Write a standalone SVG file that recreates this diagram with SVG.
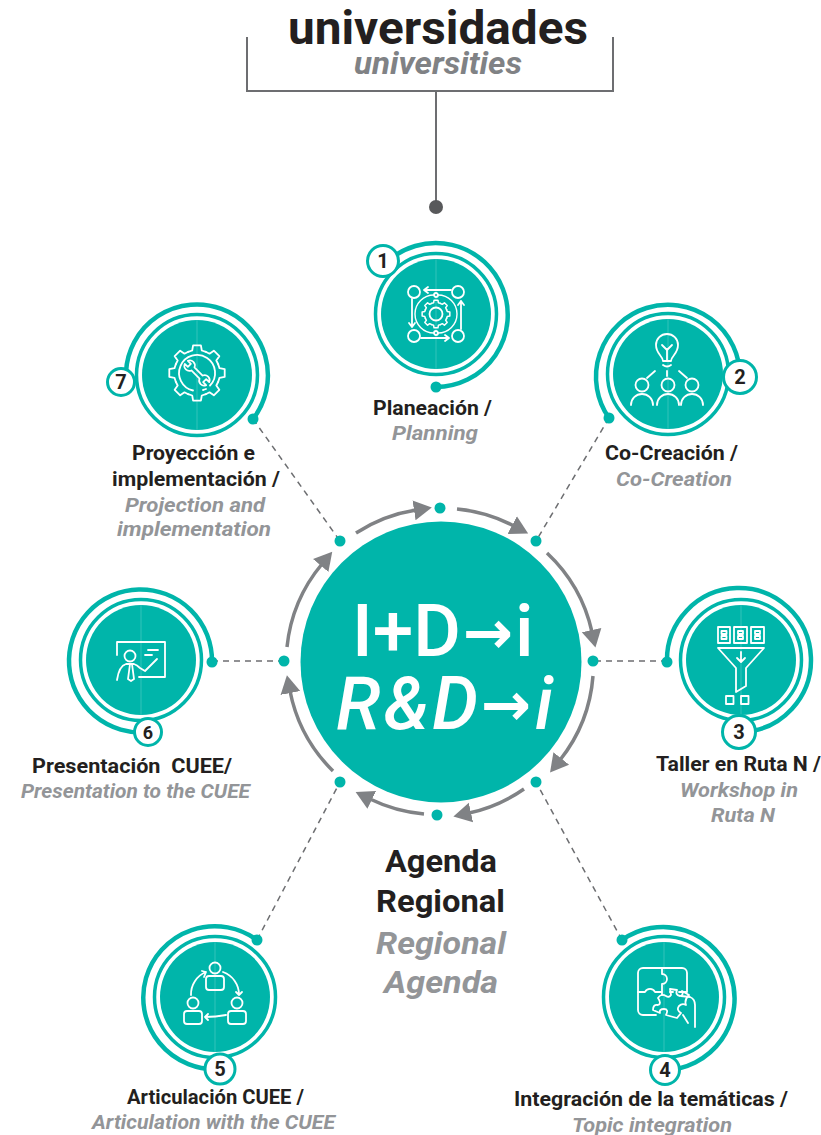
<svg xmlns="http://www.w3.org/2000/svg" xmlns:xlink="http://www.w3.org/1999/xlink" width="821" height="1135" viewBox="0 0 821 1135">
<style>
text{font-family:"Roboto","Liberation Sans",sans-serif;text-anchor:middle}
.disc{fill:#00b5aa}
.ring{fill:none;stroke:#00b5aa;stroke-width:3.5}
.spiral{fill:none;stroke:#00b5aa;stroke-width:4.5;stroke-linecap:round}
.end{fill:#00b5aa}
.seam{stroke:#fff;stroke-opacity:.2;stroke-width:1}
.badge{fill:#fff;stroke:#00b5aa;stroke-width:3}
.num{font-size:20px;font-weight:700;fill:#231f20}
.es{font-size:20px;font-weight:700;fill:#231f20}
.en{font-size:20px;font-weight:700;font-style:italic;fill:#939598}
.ic{fill:none;stroke:#fff;stroke-width:1.8;stroke-linecap:round;stroke-linejoin:round}
.dash{fill:none;stroke:#6d6e71;stroke-width:1.5;stroke-dasharray:6 5}
.flow{fill:none;stroke:#808285;stroke-width:3.5;marker-end:url(#head)}
.hub{fill:#00b5aa}
.port{fill:#00b5aa}
.big{font-size:73px;font-weight:500;fill:#fff;text-anchor:start}
.arw{font-family:"DejaVu Sans",sans-serif;font-size:60px;font-weight:700;font-style:normal;letter-spacing:0}
.ag{font-size:32px;font-weight:700;fill:#231f20}
.agi{font-size:32px;font-weight:700;font-style:italic;fill:#939598}
</style>
<defs>
<marker id="head" markerUnits="userSpaceOnUse" markerWidth="22" markerHeight="26" refX="2" refY="13" orient="auto">
<path d="M0,3 L18,13 L0,23 Z" fill="#808285"/>
</marker>
<path id="tooth" d="M-8.8,-21.2 L-4.8,-22.5 L-3.9,-27.7 L3.9,-27.7 L4.8,-22.5 L8.8,-21.2"/>
<g id="gear">
<use xlink:href="#tooth"/><use xlink:href="#tooth" transform="rotate(45)"/><use xlink:href="#tooth" transform="rotate(90)"/><use xlink:href="#tooth" transform="rotate(135)"/><use xlink:href="#tooth" transform="rotate(180)"/><use xlink:href="#tooth" transform="rotate(225)"/><use xlink:href="#tooth" transform="rotate(270)"/><use xlink:href="#tooth" transform="rotate(315)"/>
</g>
<g id="core">
<circle r="55" class="disc"/><circle r="60.500" class="ring"/><line y1="-55" y2="55" class="seam"/>
</g>
</defs>
<rect width="821" height="1135" fill="#fff"/>

<g id="connectors">
<path d="M247,37 V91 H613 V37" fill="none" stroke="#6d6e71" stroke-width="2"/>
<path d="M436,91 V207" fill="none" stroke="#6d6e71" stroke-width="2"/>
<circle cx="436" cy="207" r="7" fill="#58595b"/>
<path class="dash" d="M253,419 L340,541"/>
<path class="dash" d="M609,418 L536,541"/>
<path class="dash" d="M667,661 L593,661"/>
<path class="dash" d="M622,940 L536,782"/>
<path class="dash" d="M257,940 L340,782"/>
<path class="dash" d="M212,661 L284,661"/>
<path class="flow" d="M356,533 A154,154 0 0 1 416,510"/>
<path class="flow" d="M457,509 A154,154 0 0 1 514,526"/>
<path class="flow" d="M547,553 A154,154 0 0 1 592,632"/>
<path class="flow" d="M593,676 A154,154 0 0 1 560,760"/>
<path class="flow" d="M524,789 A154,154 0 0 1 469,813"/>
<path class="flow" d="M424,814 A154,154 0 0 1 370,799"/>
<path class="flow" d="M333,771 A154,154 0 0 1 290,691"/>
<path class="flow" d="M287,647 A154,154 0 0 1 322,564"/>
</g>

<g id="header">
<text x="438" y="44" font-size="47" font-weight="700" fill="#231f20" textLength="300" lengthAdjust="spacingAndGlyphs">universidades</text>
<text x="438" y="74" font-size="32" font-weight="700" font-style="italic" fill="#808285" textLength="168" lengthAdjust="spacingAndGlyphs">universities</text>
</g>

<g id="hub">
<circle class="hub" cx="441" cy="662" r="140.500"/>
<text class="big" x="352" y="656">I+D<tspan class="arw" x="463" dy="-3">→</tspan><tspan x="515" dy="3">i</tspan></text>
<text class="big" x="336" y="729" font-style="italic" letter-spacing="3">R&amp;D<tspan class="arw" x="481" dy="-4">→</tspan><tspan x="535" dy="4">i</tspan></text>
<circle class="port" cx="440" cy="508" r="5.500"/><circle class="port" cx="536" cy="541" r="5.500"/><circle class="port" cx="593" cy="661" r="5.500"/><circle class="port" cx="536" cy="782" r="5.500"/><circle class="port" cx="437" cy="815" r="5.500"/><circle class="port" cx="340" cy="782" r="5.500"/><circle class="port" cx="284" cy="661" r="5.500"/><circle class="port" cx="340" cy="541" r="5.500"/>
</g>

<g id="agenda">
<text class="ag" x="441" y="872" textLength="112" lengthAdjust="spacingAndGlyphs">Agenda</text>
<text class="ag" x="440.500" y="912" textLength="129" lengthAdjust="spacingAndGlyphs">Regional</text>
<text class="agi" x="441" y="954" textLength="130" lengthAdjust="spacingAndGlyphs">Regional</text>
<text class="agi" x="441" y="993" textLength="114" lengthAdjust="spacingAndGlyphs">Agenda</text>
</g>

<g id="node1">
<use xlink:href="#core" x="436" y="314"/>
<path class="spiral" d="M387,262 A72,72 0 1 1 436,387"/><circle class="end" cx="436" cy="387" r="5.500"/>
<g class="ic" transform="translate(436,314)">
<circle cx="-22" cy="-22" r="6"/><circle cx="22" cy="-22" r="6"/><circle cx="-22" cy="22" r="6"/><circle cx="22" cy="22" r="6"/>
<path d="M15,-24 H-12 M-8,-27 L-12,-24 L-8,-21"/>
<path d="M-24,-15 V13 M-27,9 L-24,13 L-21,9"/>
<path d="M-15,24 H13 M9,21 L13,24 L9,27"/>
<path d="M25,15 V-13 M22,-9 L25,-13 L28,-9"/>
<circle cy="-19" r="2"/><circle cy="19" r="2"/>
<path d="M2,-19 A19,19 0 0 1 2,19 M-2,19 A19,19 0 0 1 -2,-19" stroke-width="1.4"/>
<g transform="scale(.5)" stroke-width="3"><use xlink:href="#gear"/></g>
<circle r="6.500"/>
</g>
<circle class="badge" cx="383" cy="261" r="15.500"/><text class="num" x="383" y="268">1</text>
<text class="es" x="432.500" y="415" textLength="119" lengthAdjust="spacingAndGlyphs">Planeación /</text><text class="en" x="435" y="440" textLength="86" lengthAdjust="spacingAndGlyphs">Planning</text>
</g>

<g id="node2">
<use xlink:href="#core" x="668" y="374"/>
<path class="spiral" d="M609,418 A72,72 0 1 1 740,377"/><circle class="end" cx="609" cy="418" r="5.500"/>
<g class="ic" transform="translate(668,374)">
<path d="M-5,-13 C-5,-18 -12,-20 -12,-29 A11,11 0 0 1 10,-29 C10,-20 3,-18 3,-13 Z"/>
<path d="M-5,-9 Q-1,-6 3,-9 M-1,-13 V-25 M-1,-24 L-6,-29 M-1,-24 L4,-29"/>
<path d="M-1,-3 V2 M-13,-3 L-21,4 M11,-3 L19,4"/>
<circle cx="-26" cy="11" r="6.500"/><circle cx="0" cy="11" r="6.500"/><circle cx="24" cy="11" r="6.500"/>
<path d="M-37,31 A11,11 0 0 1 -15,31 M-11,31 A11,11 0 0 1 11,31 M13,31 A11,11 0 0 1 35,31"/>
</g>
<circle class="badge" cx="740" cy="377" r="16.500"/><text class="num" x="740" y="384">2</text>
<text class="es" x="671.500" y="460" textLength="133" lengthAdjust="spacingAndGlyphs">Co-Creación /</text><text class="en" x="674" y="486" textLength="116" lengthAdjust="spacingAndGlyphs">Co-Creation</text>
</g>

<g id="node3">
<use xlink:href="#core" x="741" y="660"/>
<path class="spiral" d="M667,662 A72,72 0 1 1 742,732"/><circle class="end" cx="667" cy="662" r="5.500"/>
<g class="ic" transform="translate(741,660)">
<rect x="-23" y="-33" width="12" height="16"/><rect x="-7" y="-33" width="13" height="16"/><rect x="10" y="-33" width="13" height="16"/>
<rect x="-19.500" y="-29" width="5" height="3"/><rect x="-3" y="-29" width="5" height="3"/><rect x="14" y="-29" width="5" height="3"/>
<rect x="-19.500" y="-24" width="5" height="3"/><rect x="-3" y="-24" width="5" height="3"/><rect x="14" y="-24" width="5" height="3"/>
<path d="M-23,-12 H23 L5,8 V26 L-5,32 V8 Z"/>
<path d="M0,-8 V1 M-4,-2 L0,2 L4,-2"/>
<rect x="-15" y="36" width="7.500" height="8"/><rect x="0" y="36" width="7.500" height="8"/>
</g>
<circle class="badge" cx="739" cy="732" r="16.500"/><text class="num" x="739" y="739">3</text>
<text class="es" x="738.500" y="771" textLength="165" lengthAdjust="spacingAndGlyphs">Taller en Ruta N /</text><text class="en" x="739" y="797" textLength="118" lengthAdjust="spacingAndGlyphs">Workshop in</text><text class="en" x="743" y="822" textLength="64" lengthAdjust="spacingAndGlyphs">Ruta N</text>
</g>

<g id="node4">
<use xlink:href="#core" x="664" y="997"/>
<path class="spiral" d="M622,940 A71.500,71.500 0 1 1 665,1070"/><circle class="end" cx="622" cy="940" r="5.500"/>
<g class="ic" transform="translate(664,997)">
<path d="M23,-6 V-24 A5,5 0 0 0 18,-29 H-21 A5,5 0 0 0 -26,-24 V13 A5,5 0 0 0 -21,18 H-8"/>
<path d="M-2,-29 V-23 A5,5 0 0 1 -2,-13 V-5 M-26,-5 H-19 A5.500,5.500 0 0 1 -9,-5 H-2 V-2"/>
<path d="M6,-5 H9 M15,-5 H23"/>
<path d="M-6,1 Q-3,-4 2,-1 Q5,1 7,-2 L6,-8 L13,-7 Q11,-2 16,-1 Q20,-2 18,-6 L25,-2 Q20,3 22,8 Q18,6 15,9 Q12,13 17,16 L13,21 L2,18 Q5,12 0,12 Q-5,12 -4,16 L-11,13 Q-11,7 -6,8 Q-2,7 -6,1 Z"/>
<path d="M17,-1 L26,0 Q31,2 31,8 V30 M19,18 L24,26"/>
</g>
<circle class="badge" cx="665" cy="1070" r="14.500"/><text class="num" x="665" y="1077">4</text>
<text class="es" x="651" y="1106" textLength="274" lengthAdjust="spacingAndGlyphs">Integración de la temáticas /</text><text class="en" x="652" y="1132" textLength="160" lengthAdjust="spacingAndGlyphs">Topic integration</text>
</g>

<g id="node5">
<use xlink:href="#core" x="215" y="997"/>
<path class="spiral" d="M257,940 A71.500,71.500 0 1 0 220,1069"/><circle class="end" cx="257" cy="940" r="5.500"/>
<g class="ic" transform="translate(215,997)">
<circle cy="-29" r="5.500"/><rect x="-9" y="-21" width="18" height="14" rx="3"/>
<circle cx="-22" cy="6" r="5.500"/><rect x="-31" y="14" width="18" height="13" rx="3"/>
<circle cx="22" cy="6" r="5.500"/><rect x="13" y="14" width="18" height="13" rx="3"/>
<path d="M-24,-2 A24,24 0 0 1 -9,-25 M-13,-26 L-9,-25 L-11,-20"/>
<path d="M8,-25 A24,24 0 0 1 24,-2 M21,-5 L24,-2 L27,-5"/>
<path d="M11,18 Q1,20 -10,20 M-7,17 L-10,20 L-7,23"/>
</g>
<circle class="badge" cx="220" cy="1069" r="15"/><text class="num" x="220" y="1076">5</text>
<text class="es" x="215.500" y="1104" textLength="177" lengthAdjust="spacingAndGlyphs">Articulación CUEE /</text><text class="en" x="213.500" y="1129" textLength="243" lengthAdjust="spacingAndGlyphs">Articulation with the CUEE</text>
</g>

<g id="node6">
<use xlink:href="#core" x="141" y="660"/>
<path class="spiral" d="M212,662 A71.500,71.500 0 1 0 148,732"/><circle class="end" cx="212" cy="662" r="5.500"/>
<g class="ic" transform="translate(141,660)">
<path d="M-24,-5 V-18 H24 V17 H-2"/>
<path d="M7,-10 H17 M4,-5 H11"/>
<circle cx="-11" cy="-4" r="5.500"/>
<path d="M-24,20 Q-22,6 -15,4 H-7 Q-4,5 -1,8 L4,11 L16,-1"/>
<path d="M-11,4 L-13,19 L-10,21 L-7,19 L-9,4"/>
</g>
<circle class="badge" cx="148" cy="732" r="13.500"/><text class="num" x="148" y="738.500" style="font-size:18px">6</text>
<text class="es" x="132" y="773" xml:space="preserve" textLength="200" lengthAdjust="spacingAndGlyphs">Presentación  CUEE/</text><text class="en" x="135.500" y="798" textLength="229" lengthAdjust="spacingAndGlyphs">Presentation to the CUEE</text>
</g>

<g id="node7">
<use xlink:href="#core" x="197" y="375"/>
<path class="spiral" d="M253,419 A71,71 0 1 0 126,372"/><circle class="end" cx="253" cy="419" r="5.500"/>
<g class="ic" transform="translate(197,373)">
<use xlink:href="#gear"/>
<path d="M-4,17.500 A18,18 0 1 1 13,12.500"/>
<path d="M6,17 A18,18 0 0 0 9,16"/>
<path transform="rotate(-45) scale(.72)" d="M-3,-8 V8 A7,7 0 0 0 -3,21 V15 H3 V21 A7,7 0 0 0 3,8 V-8 A7,7 0 0 0 3,-21 V-15 H-3 V-21 A7,7 0 0 0 -3,-8 Z" stroke-width="2.400"/>
</g>
<circle class="badge" cx="121" cy="382" r="13.500"/><text class="num" x="121" y="389">7</text>
<text class="es" x="193.500" y="460" textLength="123" lengthAdjust="spacingAndGlyphs">Proyección e</text><text class="es" x="196" y="486" textLength="168" lengthAdjust="spacingAndGlyphs">implementación /</text><text class="en" x="195" y="512" textLength="140" lengthAdjust="spacingAndGlyphs">Projection and</text><text class="en" x="194" y="536" textLength="154" lengthAdjust="spacingAndGlyphs">implementation</text>
</g>
</svg>
